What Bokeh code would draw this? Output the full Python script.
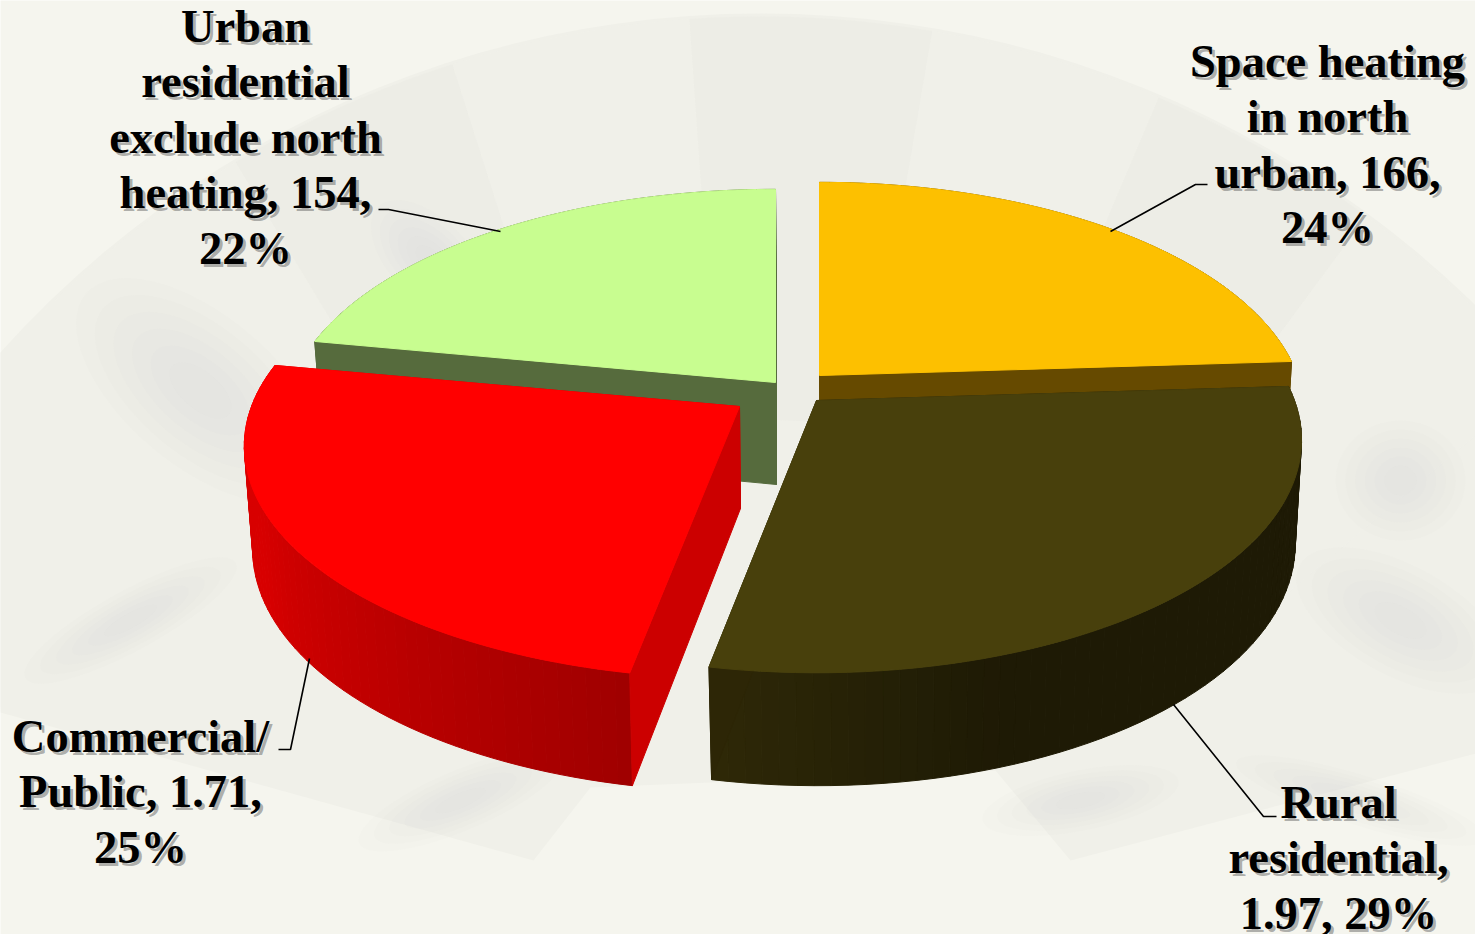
import math
from bokeh.plotting import figure
from bokeh.models import Range1d
from bokeh.core.properties import value
from bokeh.embed import file_html
from bokeh.resources import INLINE

# Slices, clockwise from twelve o'clock
slice_names = ["Space heating in north urban", "Rural residential", "Commercial/Public", "Urban residential exclude north heating"]
slice_shares = [24, 29, 25, 22]

label_lines = [
    ["Space heating", "in north", "urban, 166,", "24%"],
    ["Rural", "residential,", "1.97, 29%"],
    ["Commercial/", "Public, 1.71,", "25%"],
    ["Urban", "residential", "exclude north", "heating, 154,", "22%"],
]

# Drawing parameters of each exploded slice
apex = [(819, 375), (816, 400), (739, 406), (775, 382)]
half_width = [478, 478, 488, 484]
top_colors = ["#fdc000", "#48400c", "#ff0000", "#c8fd90"]
cut_colors = ["#664a00", "#2d2606", "#cc0000", "#566b3d"]
wall_start = [(0x66, 0x4a, 0), (0x1e, 0x1a, 0x05), (0xa0, 0, 0), (0x56, 0x6b, 0x3d)]
wall_end = [(0x66, 0x4a, 0), (0x2e, 0x28, 0x07), (0xd8, 0, 0), (0x56, 0x6b, 0x3d)]
# where along the arc each wall's shade starts and stops changing
shade_from = [0.0, 0.72, 0.0, 0.0]
shade_to = [1.0, 1.0, 0.62, 1.0]

DEPTH = 226      # half depth of the tilted disc
PERSP = 0.17     # foreshortening towards the viewer
THICK = 102      # extrusion of the disc

LABEL_X = [1327, 1338, 140, 245]
LABEL_Y = [61, 802, 736, 26]
LINE_STEP = 55.4

p = figure(width=1475, height=934, output_backend="svg", toolbar_location=None,
           x_range=Range1d(0, 1475), y_range=Range1d(934, 0),
           min_border=0, outline_line_color=None, background_fill_color="#f5f5ee",
           border_fill_color="#f5f5ee")
p.axis.visible = False
p.grid.visible = False


def project(idx, deg, bottom=False, centre=False):
    """Map an angle on the disc to the page, with perspective."""
    ax, ay = apex[idx]
    a, b = half_width[idx], DEPTH
    if bottom:
        ax, ay, a, b = ax + 1, ay + THICK, a * 0.985, b * 1.04
    if centre:
        return ax, ay
    t = math.radians(deg)
    X, Y = math.sin(t), -math.cos(t)
    w = 1 - PERSP * Y
    return ax + a * X / w, ay + b * Y / w


def mix(c0, c1, f):
    return "#%02x%02x%02x" % tuple(round(u + (v - u) * f) for u, v in zip(c0, c1))


# --- paper backdrop: a folding fan with faint panels and ink washes ---
FX, FY, FR = 760, 1035, 1022


def polar(deg, r):
    t = math.radians(deg)
    return FX + r * math.sin(t), FY - r * math.cos(t)


arc = [polar(d, FR) for d in range(-50, 53, 2)]
fan = [(0, 712)] + arc + [(1475, 753), (1070, 860), (995, 770), (590, 787), (533, 860)]
p.patch([q[0] for q in fan], [q[1] for q in fan], fill_color="#f0f0e9", line_color=None)

fold_angles = [-45, -31, -17.6, -4, 9.7, 23, 36.5, 50]
for i in range(len(fold_angles) - 1):
    lo, hi = fold_angles[i], fold_angles[i + 1]
    pts = [polar(lo + (hi - lo) * k / 10, FR - 3) for k in range(11)]
    pts += [polar(hi, 620), polar(lo, 620)]
    p.patch([q[0] for q in pts], [q[1] for q in pts],
            fill_color="#e9e9e1" if i % 2 == 1 else "#f3f3ec", fill_alpha=0.3, line_color=None)

washes = [(130, 620, 240, 60, 0.5), (200, 390, 300, 150, -0.7), (1400, 620, 230, 110, -0.5),
          (1360, 800, 260, 50, -0.3), (1080, 800, 200, 60, 0.2), (430, 260, 150, 80, -0.8),
          (1400, 480, 130, 120, 0.0), (460, 800, 220, 60, 0.4)]
# nested ellipses give the washes a soft edge
for scale in (1.0, 0.85, 0.7, 0.55, 0.4, 0.25):
    p.ellipse([w[0] for w in washes], [w[1] for w in washes],
              width=[w[2] * scale for w in washes], height=[w[3] * scale for w in washes],
              angle=[w[4] for w in washes], fill_color="#d4d4ce", fill_alpha=0.04, line_color=None)

# --- slices: angular spans come from the shares ---
total = sum(slice_shares)
spans, start = [], 0.0
for share in slice_shares:
    spans.append((start, start + 360.0 * share / total))
    start = spans[-1][1]


def draw_body(i):
    lo, hi = spans[i]
    n = 60
    degs = [lo + (hi - lo) * k / n for k in range(n + 1)]
    # curved outer wall, shaded strip by strip
    xs, ys, cols = [], [], []
    for k in range(n):
        a0, a1 = project(i, degs[k]), project(i, degs[k + 1])
        b1, b0 = project(i, degs[k + 1], True), project(i, degs[k], True)
        xs.append([a0[0], a1[0], b1[0], b0[0]])
        ys.append([a0[1], a1[1], b1[1], b0[1]])
        f = (k / (n - 1) - shade_from[i]) / (shade_to[i] - shade_from[i])
        cols.append(mix(wall_start[i], wall_end[i], max(0.0, min(1.0, f))))
    p.patches(xs, ys, fill_color=cols, line_color=cols, line_width=1)
    # the two flat cut faces
    for d in (lo, hi):
        t0, c0 = project(i, d), project(i, d, centre=True)
        c1, b1 = project(i, d, True, centre=True), project(i, d, True)
        p.patch([t0[0], c0[0], c1[0], b1[0]], [t0[1], c0[1], c1[1], b1[1]],
                fill_color=cut_colors[i], line_color=cut_colors[i], line_width=1)
    # top surface
    c = project(i, 0, centre=True)
    top = [c] + [project(i, d) for d in degs]
    p.patch([q[0] for q in top], [q[1] for q in top], fill_color=top_colors[i],
            line_color=top_colors[i], line_width=1)


# back slices first so the front ones overlap them
for i in (3, 0, 2, 1):
    draw_body(i)

# --- leader lines ---
leaders = [([1207, 1195, 1110], [184, 184, 231]),
           ([1276, 1263, 1173], [816, 816, 704]),
           ([278, 290, 309], [749, 749, 658]),
           ([378, 388, 500], [209, 209, 231])]
for lx, ly in leaders:
    p.line(lx, ly, line_color="#000000", line_width=1.6)

# --- labels, each with a soft drop shadow ---
font = value("Liberation Serif")
for offset, color, alpha in ((3, "#3c3c3c", 0.4), (0, "#000000", 1.0)):
    xs, ys, ts = [], [], []
    for lines, lx, ly in zip(label_lines, LABEL_X, LABEL_Y):
        for n, t in enumerate(lines):
            xs.append(lx + offset)
            ys.append(ly + n * LINE_STEP + offset)
            ts.append(t)
    p.text(xs, ys, text=ts, text_font=font, text_font_style="bold", text_font_size="46.5px",
           text_color=color, text_alpha=alpha, text_align="center", text_baseline="middle")

open("out.html", "w").write(file_html(p, INLINE))
